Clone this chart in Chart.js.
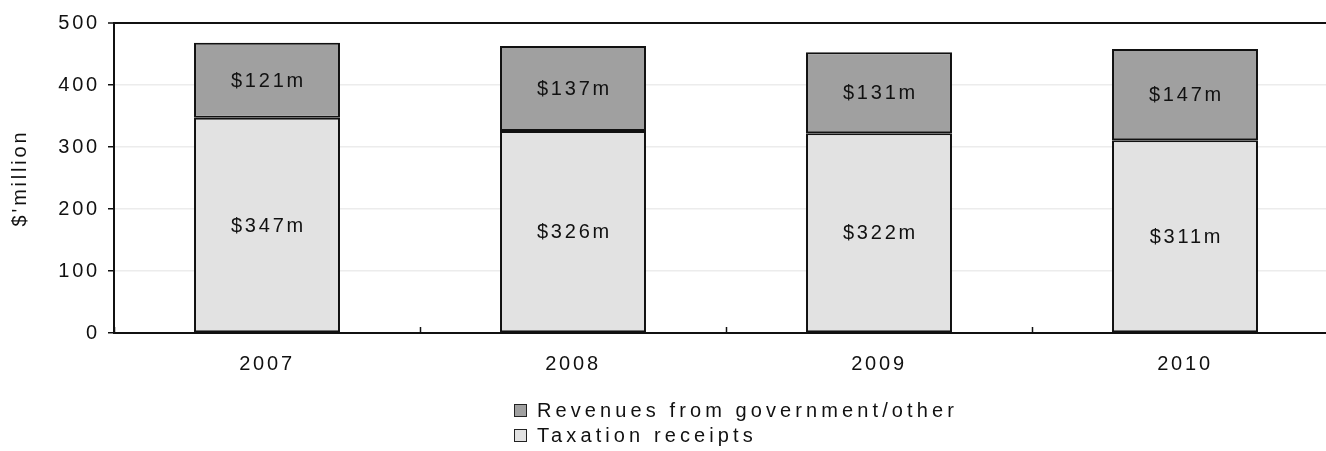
<!DOCTYPE html>
<html>
<head>
<meta charset="utf-8">
<script src="https://cdn.jsdelivr.net/npm/chart.js@4/dist/chart.umd.min.js"></script>
<style>
    html, body { margin: 0; padding: 0; background: #fff; overflow: hidden; }
    .wrap { position: relative; width: 1338px; height: 451px; }
    .legend {
        position: absolute; left: 514px; top: 398px;
        font-family: "Liberation Sans", Arial, sans-serif;
        font-size: 20px; letter-spacing: 4.1px; color: #111;
    }
    .legend__item { display: flex; align-items: center; height: 25px; }
    .legend__box {
        width: 13px; height: 13px; box-sizing: border-box;
        border: 1.5px solid #222; margin-right: 10px;
    }
</style>
</head>
<body>
<div class="wrap">
    <canvas id="chart"></canvas>
    <div class="legend" id="legend"></div>
</div>
<script>
const years = ["2007", "2008", "2009", "2010"];
const taxation = [347, 326, 322, 311];
const government = [121, 137, 131, 147];
const yTicks = [0, 100, 200, 300, 400, 500];

const FONT = { family: '"Liberation Sans", Arial, sans-serif', size: 20 };
const SPACING = '2.8px';

// canvas state gets reset on resize, so put the tracking back before measuring and drawing
const letterSpacing = {
    id: 'letterSpacing',
    beforeUpdate(chart) { chart.ctx.letterSpacing = SPACING; },
    beforeDraw(chart) { chart.ctx.letterSpacing = SPACING; }
};

// "$XXXm" labels in the middle of each segment
const segmentLabels = {
    id: 'segmentLabels',
    afterDatasetsDraw(chart) {
        const ctx = chart.ctx;
        ctx.save();
        ctx.letterSpacing = SPACING;
        ctx.font = FONT.size + 'px ' + FONT.family;
        ctx.fillStyle = '#111';
        ctx.textAlign = 'center';
        ctx.textBaseline = 'middle';
        chart.data.datasets.forEach((ds, i) => {
            chart.getDatasetMeta(i).data.forEach((bar, j) => {
                const p = bar.getProps(['x', 'y', 'base'], true);
                ctx.fillText('$' + ds.data[j] + 'm', p.x + 1.5, (p.y + p.base) / 2 + 1);
            });
        });
        ctx.restore();
    }
};

const datasets = [
    { label: 'Taxation receipts', data: taxation, backgroundColor: '#e2e2e2' },
    { label: 'Revenues from government/other', data: government, backgroundColor: '#a0a0a0' }
].map(ds => Object.assign(ds, {
    borderColor: '#111',
    borderWidth: 2,
    borderSkipped: false,
    barPercentage: 0.477,
    categoryPercentage: 1
}));

new Chart(document.getElementById('chart'), {
    type: 'bar',
    data: { labels: years, datasets: datasets },
    options: {
        responsive: true,
        maintainAspectRatio: false,
        animation: false,
        layout: { padding: { top: 23, left: 0, right: 0, bottom: 0 } },
        plugins: {
            legend: { display: false },
            tooltip: { enabled: false }
        },
        scales: {
            x: {
                stacked: true,
                afterFit(scale) { scale.height = 118; },
                border: { color: '#111', width: 2 },
                grid: {
                    offset: true,
                    drawOnChartArea: false,
                    tickLength: -6,
                    tickColor: '#111',
                    tickWidth: 1.5
                },
                ticks: { color: '#111', font: FONT, padding: 25 }
            },
            y: {
                stacked: true,
                min: 0,
                max: 500,
                afterFit(scale) { scale.width = 114; },
                afterBuildTicks(scale) { scale.ticks = yTicks.map(v => ({ value: v })); },
                border: { color: '#111', width: 2 },
                grid: {
                    color: c => c.tick && c.tick.value === 500 ? '#111' : '#ececec',
                    lineWidth: c => c.tick && c.tick.value === 500 ? 2 : 1.5,
                    tickLength: 6,
                    tickColor: '#111',
                    tickWidth: 1.5
                },
                ticks: { color: '#111', font: FONT, padding: 8 },
                title: {
                    display: true,
                    text: "$'million",
                    color: '#111',
                    font: FONT,
                    padding: { top: 8, bottom: 0 }
                }
            }
        }
    },
    plugins: [letterSpacing, segmentLabels]
});

// two-row legend under the axis, top segment first
const legend = document.getElementById('legend');
datasets.slice().reverse().forEach(ds => {
    const item = document.createElement('div');
    item.className = 'legend__item';
    const box = document.createElement('span');
    box.className = 'legend__box';
    box.style.background = ds.backgroundColor;
    item.appendChild(box);
    item.appendChild(document.createTextNode(ds.label));
    legend.appendChild(item);
});
</script>
</body>
</html>
